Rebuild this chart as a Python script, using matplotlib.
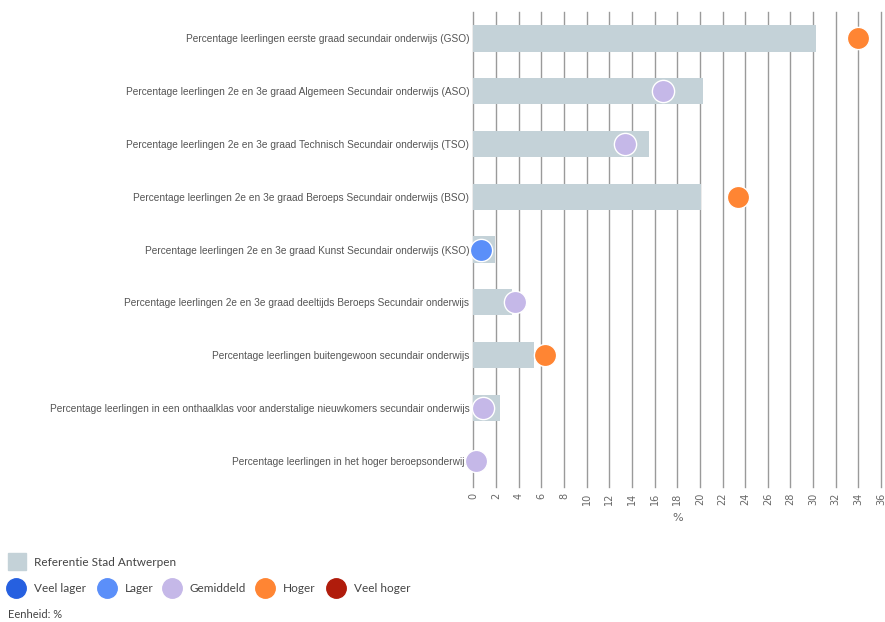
import matplotlib
matplotlib.use("Agg")
import matplotlib.pyplot as plt
from matplotlib.patches import Rectangle
from matplotlib.lines import Line2D

categories = [
    "Percentage leerlingen eerste graad secundair onderwijs (GSO)",
    "Percentage leerlingen 2e en 3e graad Algemeen Secundair onderwijs (ASO)",
    "Percentage leerlingen 2e en 3e graad Technisch Secundair onderwijs (TSO)",
    "Percentage leerlingen 2e en 3e graad Beroeps Secundair onderwijs (BSO)",
    "Percentage leerlingen 2e en 3e graad Kunst Secundair onderwijs (KSO)",
    "Percentage leerlingen 2e en 3e graad deeltijds Beroeps Secundair onderwijs",
    "Percentage leerlingen buitengewoon secundair onderwijs",
    "Percentage leerlingen in een onthaalklas voor anderstalige nieuwkomers secundair onderwijs",
    "Percentage leerlingen in het hoger beroepsonderwijs",
]
reference = [30.3, 20.3, 15.5, 20.1, 1.9, 3.4, 5.35, 2.3, 0.0]
values = [34.0, 16.7, 13.4, 23.4, 0.65, 3.7, 6.3, 0.8, 0.2]
classes = ["Hoger", "Gemiddeld", "Gemiddeld", "Hoger", "Lager", "Gemiddeld", "Hoger", "Gemiddeld", "Gemiddeld"]
class_names = ["Veel lager", "Lager", "Gemiddeld", "Hoger", "Veel hoger"]
class_colors = ["#2660e0", "#5b8ff9", "#c5b8e8", "#ff8533", "#b01c0c"]
xticks = list(range(0, 37, 2))

label_font = "Liberation Sans"
legend_font = "Lato"

color_map = dict(zip(class_names, class_colors))

fig = plt.figure(figsize=(8.85, 6.22), dpi=100)
ax = fig.add_axes([473.5 / 885, 1 - 487 / 622, (881.0 - 473.5) / 885, (487 - 12) / 622])

ypos = list(range(len(categories)))
ax.set_xlim(0, 36)
ax.set_ylim(len(categories) - 0.5, -0.5)

for x in xticks:
    ax.axvline(x, color="#9a9a9a", lw=1.0, zorder=0, clip_on=False)

ax.barh(ypos, reference, height=0.5, color="#c4d2d8", zorder=2)
for y, v, c in zip(ypos, values, classes):
    ax.plot(v, y, "o", ms=16, color=color_map[c], mec="white", mew=1, zorder=3, clip_on=False)

for s in ax.spines.values():
    s.set_visible(False)
ax.set_yticks(ypos)
ax.set_yticklabels(categories, fontsize=7.3, color="#555555", family=label_font)
ax.tick_params(axis="y", length=0, pad=3)
ax.set_xticks(xticks)
ax.set_xticklabels([str(t) for t in xticks], rotation=90, fontsize=7, color="#666666")
ax.tick_params(axis="x", length=0, pad=4)
ax.set_xlabel("%", fontsize=8, color="#666666", labelpad=6)

# Legend
fig.patches.append(Rectangle((8 / 885, 1 - 570 / 622), 18 / 885, 17 / 622,
                             transform=fig.transFigure, color="#c4d2d8"))
fig.text(34 / 885, 1 - 562 / 622, "Referentie Stad Antwerpen", fontsize=8.5,
         color="#444444", va="center", family=legend_font)
lx = [16, 107, 172, 265, 336]
for x, n, c in zip(lx, class_names, class_colors):
    fig.lines.append(Line2D([x / 885], [1 - 588 / 622], marker="o", ms=14, color=c,
                            mec=c, transform=fig.transFigure))
    fig.text((x + 18) / 885, 1 - 588 / 622, n, fontsize=8.5, color="#444444",
             va="center", family=legend_font)
fig.text(8 / 885, 1 - 615 / 622, "Eenheid: %", fontsize=8, color="#444444",
         va="center", family=legend_font)

fig.savefig("out.png", dpi=100)
